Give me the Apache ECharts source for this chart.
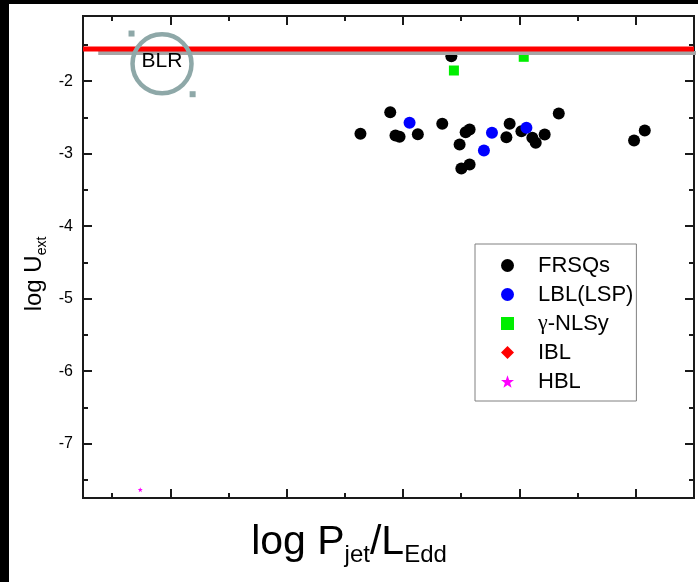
<!DOCTYPE html>
<html>
<head>
<meta charset="utf-8">
<style>
  html, body { margin: 0; padding: 0; background: #fff; }
  #chart { width: 698px; height: 582px; }
</style>
<script src="https://cdn.jsdelivr.net/npm/echarts@6/dist/echarts.min.js"></script>
</head>
<body>
<div id="chart"></div>
<script>
// Source populations: log(Pjet/LEdd) vs log(U_ext)
const frsqX = [-1.366, -1.110, -1.065, -1.030, -0.873, -0.663, -0.462, -0.428, -0.514, -0.499, -0.428, -0.084, -0.112, 0.017, 0.111, 0.140, 0.217, 0.338, 0.985, 1.077, -0.585];
const frsqY = [-2.726, -2.428, -2.749, -2.767, -2.731, -2.588, -2.704, -2.667, -2.874, -3.205, -3.150, -2.588, -2.773, -2.690, -2.781, -2.850, -2.736, -2.446, -2.818, -2.680, -1.655];
const lblX = [-0.944, -0.236, -0.305, 0.060];
const lblY = [-2.574, -2.712, -2.956, -2.643];
const nlsyX = [-0.563, 0.037];
const nlsyY = [-1.852, -1.663];
const iblX = [];
const iblY = [];
const hblX = [-3.258];
const hblY = [-7.635];

// BLR energy-density levels (horizontal reference lines)
const blrRedY = -1.556;
const blrRedX = [-3.75, 1.5];
const blrGrayY = -1.611;
const blrGrayX = [-3.619, 1.533];

// BLR annotation: ring centre and its two selection handles
const blrRingX = [-3.071];
const blrRingY = [-1.760];
const handleX = [-3.333, -2.808];
const handleY = [-1.342, -2.179];

// Axis ticks
const xMajorTicks = [-3, -2, -1, 0, 1];
const xMinorTicks = [-3.5, -2.5, -1.5, -0.5, 0.5];
const yMajorTicks = [-7, -6, -5, -4, -3, -2];
const yMinorTicks = [-7.5, -6.5, -5.5, -4.5, -3.5, -2.5, -1.5];
const xRange = [-3.75, 1.5];
const yRange = [-7.75, -1.1];

const zip = (xs, ys) => xs.map((x, i) => [x, ys[i]]);

const FONT = '"Liberation Sans", Arial, sans-serif';
const AXIS_COLOR = '#1a1a1a';
const RING_COLOR = '#8ea8a8';
const STAR = 'path://M12,0 L14.9,8.3 L23.4,8.3 L16.6,13.6 L19.1,22 L12,17 L4.9,22 L7.4,13.6 L0.6,8.3 L9.1,8.3 Z';

function xAxisDef(position, ticks, len) {
  return {
    type: 'value', position: position, min: xRange[0], max: xRange[1],
    axisLine: { show: true, onZero: false, lineStyle: { color: AXIS_COLOR, width: 2 } },
    axisTick: { show: true, inside: true, length: len, customValues: ticks, lineStyle: { color: AXIS_COLOR, width: 2 } },
    axisLabel: { show: false },
    splitLine: { show: false }
  };
}
function yAxisDef(position, ticks, len, labels) {
  return {
    type: 'value', position: position, min: yRange[0], max: yRange[1],
    axisLine: { show: true, onZero: false, lineStyle: { color: AXIS_COLOR, width: 2 } },
    axisTick: { show: true, inside: true, length: len, customValues: ticks, lineStyle: { color: AXIS_COLOR, width: 2 } },
    axisLabel: labels
      ? { show: true, customValues: ticks, fontSize: 16, fontFamily: FONT, color: '#000', margin: 10 }
      : { show: false },
    splitLine: { show: false }
  };
}

function pointSeries(name, symbol, size, color, xs, ys) {
  return {
    name: name, type: 'scatter', symbol: symbol, symbolSize: size,
    itemStyle: { color: color, opacity: 1 },
    emphasis: { disabled: true },
    data: zip(xs, ys), z: 3
  };
}

const chart = echarts.init(document.getElementById('chart'), null, { renderer: 'canvas' });

chart.setOption({
  backgroundColor: '#fff',
  animation: false,
  grid: { left: 83, top: 16, right: 4, bottom: 84, containLabel: false },
  xAxis: [
    xAxisDef('bottom', xMajorTicks, 9),
    xAxisDef('bottom', xMinorTicks, 5),
    xAxisDef('top', xMajorTicks, 9),
    xAxisDef('top', xMinorTicks, 5)
  ],
  yAxis: [
    yAxisDef('left', yMajorTicks, 9, true),
    yAxisDef('left', yMinorTicks, 5, false),
    yAxisDef('right', yMajorTicks, 9, false),
    yAxisDef('right', yMinorTicks, 5, false)
  ],
  legend: {
    orient: 'vertical',
    left: 475, top: 244,
    padding: [10, 3, 8, 26],
    itemGap: 6,
    itemWidth: 13, itemHeight: 13,
    borderColor: '#808080', borderWidth: 1,
    selectedMode: false,
    itemStyle: { opacity: 1 },
    data: [
      { name: 'FRSQs', icon: 'circle' },
      { name: 'LBL(LSP)', icon: 'circle' },
      { name: 'γ-NLSy', icon: 'rect' },
      { name: 'IBL', icon: 'diamond' },
      { name: 'HBL', icon: STAR }
    ],
    formatter: name => name === 'γ-NLSy' ? '{g|γ}-NLSy' : name,
    textStyle: {
      fontSize: 22, fontFamily: FONT, color: '#000', lineHeight: 23,
      padding: [0, 0, 0, 19],
      rich: { g: { fontSize: 22, fontFamily: '"Liberation Serif", "Times New Roman", serif', color: '#000', lineHeight: 23 } }
    }
  },
  series: [
    pointSeries('FRSQs', 'circle', 12, '#000000', frsqX, frsqY),
    pointSeries('LBL(LSP)', 'circle', 12, '#0000ff', lblX, lblY),
    pointSeries('γ-NLSy', 'rect', 10, '#00ee00', nlsyX, nlsyY),
    pointSeries('IBL', 'diamond', 14, '#ff0000', iblX, iblY),
    Object.assign(pointSeries('HBL', STAR, 5, '#ff00ff', hblX, hblY), {}),
    {
      name: 'BLR-gray', type: 'line', silent: true, clip: false, showSymbol: false, symbol: 'none',
      lineStyle: { color: '#a6a6a6', width: 4 },
      data: blrGrayX.map(x => [x, blrGrayY]), z: 4
    },
    {
      name: 'BLR-red', type: 'line', silent: true, clip: false, showSymbol: false, symbol: 'none',
      lineStyle: { color: '#ff0000', width: 5 },
      data: blrRedX.map(x => [x, blrRedY]), z: 5
    },
    {
      name: 'BLR-ring', type: 'scatter', silent: true, symbol: 'circle', symbolSize: 59,
      itemStyle: { color: 'rgba(0,0,0,0)', borderColor: RING_COLOR, borderWidth: 4.5, opacity: 1 },
      label: {
        show: true, position: 'inside', formatter: 'BLR', offset: [0, -3],
        fontSize: 21, fontFamily: FONT, color: '#000', opacity: 1
      },
      data: zip(blrRingX, blrRingY), z: 6
    },
    {
      name: 'BLR-handles', type: 'scatter', silent: true, symbol: 'rect', symbolSize: 6,
      itemStyle: { color: RING_COLOR, opacity: 1 }, data: zip(handleX, handleY), z: 6
    }
  ],
  graphic: [
    {
      type: 'text', x: 34, y: 274, rotation: Math.PI / 2, z: 10,
      style: {
        text: '{m|log U}{s|ext}', align: 'center', verticalAlign: 'middle',
        rich: {
          m: { fontSize: 24, fontFamily: FONT, fill: '#000', lineHeight: 30 },
          s: { fontSize: 14, fontFamily: FONT, fill: '#000', lineHeight: 11, verticalAlign: 'bottom' }
        }
      }
    },
    {
      type: 'text', x: 349, y: 543, z: 10,
      style: {
        text: '{m|log P}{s|jet}{m|/L}{s|Edd}', align: 'center', verticalAlign: 'middle',
        rich: {
          m: { fontSize: 41, fontFamily: FONT, fill: '#000', lineHeight: 48 },
          s: { fontSize: 24, fontFamily: FONT, fill: '#000', lineHeight: 6, verticalAlign: 'bottom' }
        }
      }
    },
    { type: 'rect', shape: { x: 0, y: 0, width: 9, height: 582 }, style: { fill: '#000' }, z: 20 },
    { type: 'rect', shape: { x: 0, y: 0, width: 698, height: 4 }, style: { fill: '#000' }, z: 20 }
  ]
});
</script>
</body>
</html>
